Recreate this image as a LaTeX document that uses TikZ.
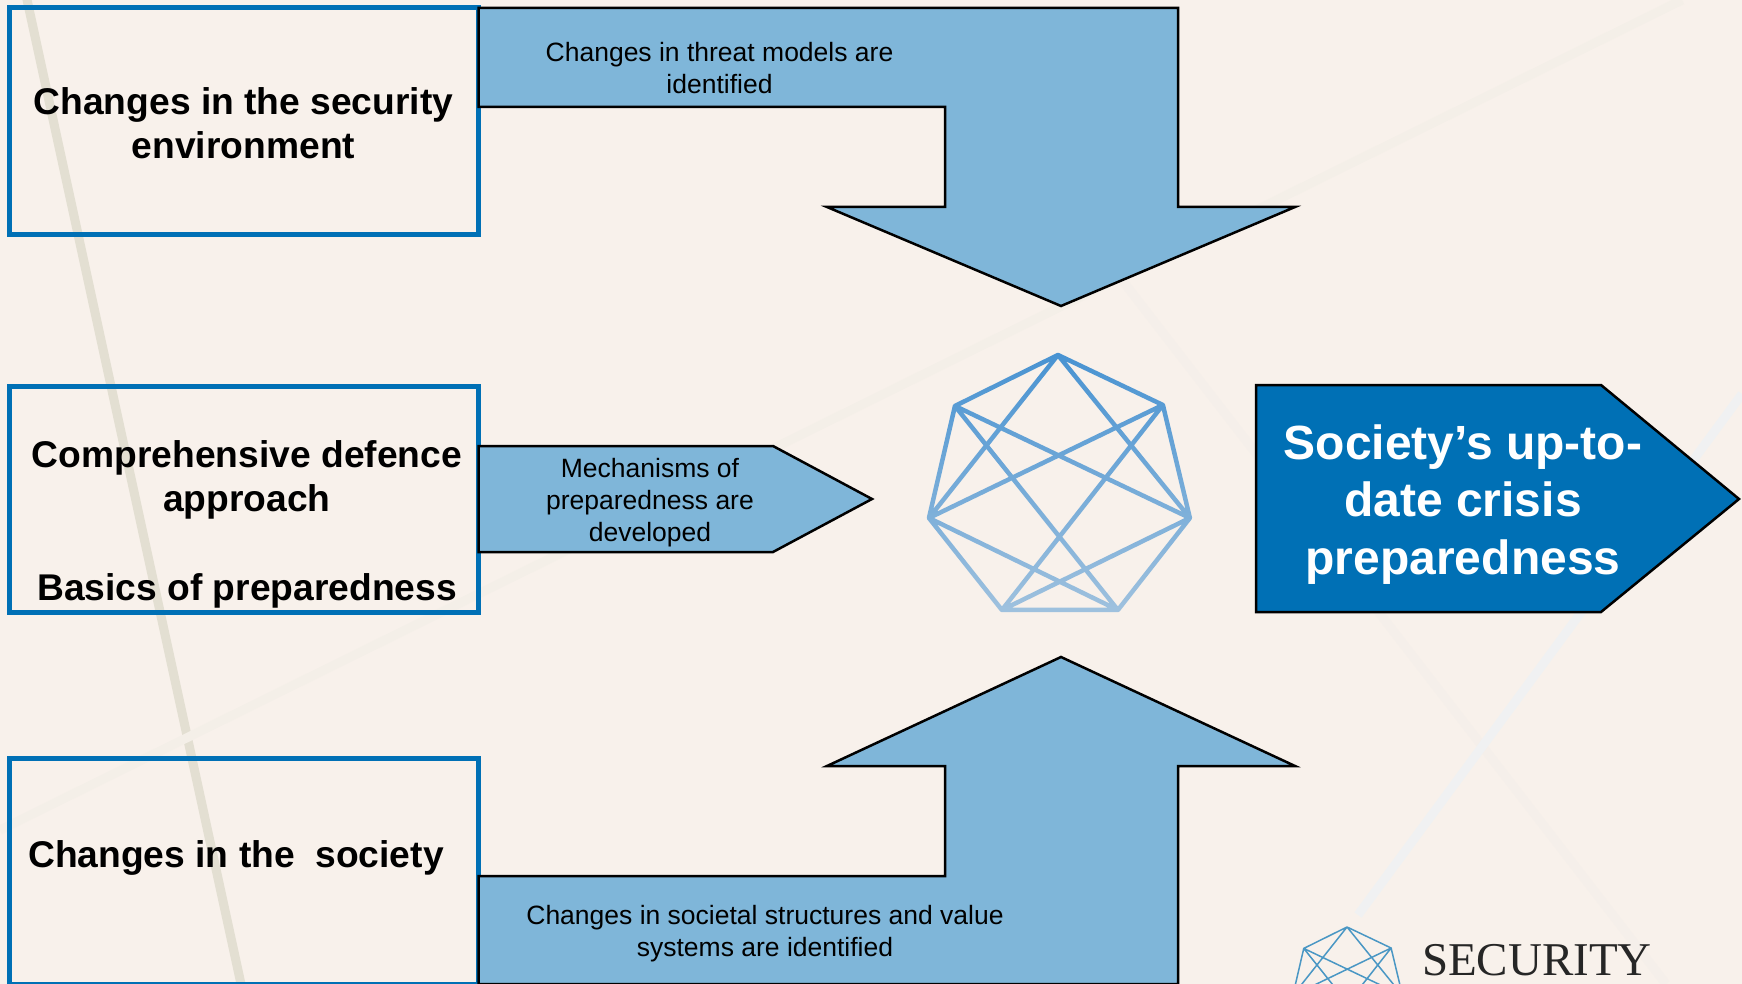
\documentclass[tikz,border=0pt]{standalone}
\usepackage{fontspec}
\setmainfont{Liberation Sans}
\newfontfamily\logofont{Liberation Serif}
\usetikzlibrary{fadings}
\definecolor{paper}{HTML}{F8F1EB}
\definecolor{strokeblue}{HTML}{0070B5}
\definecolor{arrowblue}{HTML}{7FB6D9}
\definecolor{heptblue}{HTML}{4893D2}
\definecolor{logoblue}{HTML}{4A97C4}
\definecolor{streakbeige}{HTML}{E3DFD2}
\definecolor{streakgrey}{HTML}{F4EFE8}
\definecolor{streakpale}{HTML}{F5EFEA}
\definecolor{streakblue}{HTML}{F0F1F2}
\tikzfading[name=heptfade, top color=transparent!0, bottom color=transparent!50]
\tikzset{
  sourcebox/.style={draw=strokeblue, line width=5pt, minimum width=469pt, anchor=north west, inner sep=0pt, outer sep=0pt},
  flow/.style={draw=black, fill=arrowblue, line width=2.5pt, line join=miter},
  boxlabel/.style={font=\bfseries\fontsize{37.2}{44.5}\selectfont, align=center, text=black, inner sep=0pt},
  flowlabel/.style={font=\fontsize{26.5}{32}\selectfont, align=center, text=black, inner sep=0pt},
  streak/.style={line width=9pt},
  hept/.pic={
    \coordinate (v0) at (0,0);
    \coordinate (v1) at (105,50);
    \coordinate (v2) at (132,163);
    \coordinate (v3) at (60,255);
    \coordinate (v4) at (-56,255);
    \coordinate (v5) at (-129,163);
    \coordinate (v6) at (-103,51);
    \draw[pic actions] (v0) -- (v1) -- (v2) -- (v3) -- (v4) -- (v5) -- (v6) -- cycle
      (v0) -- (v5) (v0) -- (v2) (v1) -- (v5) (v1) -- (v4)
      (v2) -- (v6) (v2) -- (v4) (v3) -- (v6) (v3) -- (v5);
  }
}
\begin{document}
\begin{tikzpicture}[x=1pt,y=-1pt]
  \clip (0,0) rectangle (1742,984);
  \fill[paper] (0,0) rectangle (1742,984);
  % background streaks
  \draw[streak, color=streakbeige] (26,-5) -- (241,984);
  \draw[streak, color=streakgrey] (0,830) -- (1682,0);
  \draw[streak, color=streakpale] (1122,280) -- (1666,984);
  \draw[streak, color=streakblue] (1742,394) -- (1358,915);
  % source boxes
  \node[sourcebox, minimum height=227pt] (security) at (9.5,7.5) {};
  \node[sourcebox, minimum height=226.5pt] (defence) at (9.5,386) {};
  \node[sourcebox, minimum height=226pt] (society) at (9.5,758.5) {};
  \node[boxlabel] (securitytext) at (243.5,123) {Changes in the security\\environment};
  \node[boxlabel] (defencetext) at (247,524.5) {Comprehensive defence\\approach\\[44.5pt]Basics of preparedness};
  \node[boxlabel] (societytext) at (236,858) {Changes in the~ society};
  % flows into the centre
  \draw[flow] (478.5,8) -- (1178,8) -- (1178,207) -- (1295,207) -- (1061,306) -- (827,207)
    -- (945,207) -- (945,107) -- (478.5,107) -- cycle;
  \draw[flow] (478.5,446) -- (773,446) -- (872,499) -- (773,552) -- (478.5,552) -- cycle;
  \draw[flow] (478.5,876) -- (945,876) -- (945,766) -- (827,766) -- (1061,657) -- (1295,766)
    -- (1178,766) -- (1178,984) -- (478.5,984) -- cycle;
  \node[flowlabel] (threattext) at (719.5,68) {Changes in threat models are\\identified};
  \node[flowlabel] (mechtext) at (650,502.5) {Mechanisms of\\preparedness are\\developed};
  \node[flowlabel] (valuetext) at (765,934) {Changes in societal structures and value\\systems are identified};
  % outcome
  \draw[flow, fill=strokeblue] (1256,385) -- (1601,385) -- (1739,499) -- (1601,612) -- (1256,612) -- cycle;
  \node[font=\bfseries\fontsize{48}{57.5}\selectfont, align=center, text=white, inner sep=0pt] (outcome) at (1463,504.5)
    {Society’s up-to-\\date crisis\\preparedness};
  % heptagons
  \pic (big) at (1058,355) [draw=heptblue, line width=4.5pt, line join=round, path fading=heptfade, fit fading=true] {hept};
  \pic (small) at (1347,927) [draw=logoblue, line width=1.5pt, line join=round, scale=.42] {hept};
  \node[font=\logofont\fontsize{47}{47}\selectfont, text=black!85, anchor=base, inner sep=0pt] (logotext) at (1537,975) {SECURITY};
\end{tikzpicture}
\end{document}
